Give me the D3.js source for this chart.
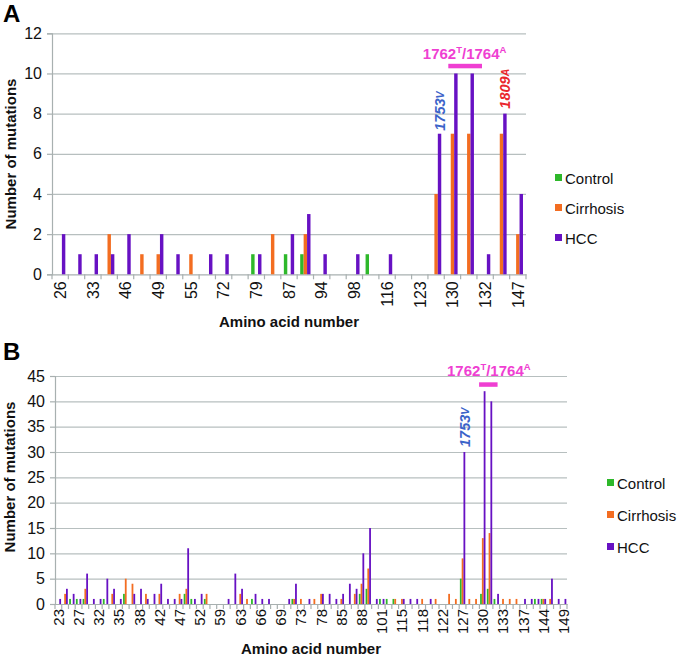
<!DOCTYPE html>
<html><head><meta charset="utf-8">
<script src="https://cdn.jsdelivr.net/npm/d3@7"></script>
<style>body{margin:0;background:#fff} svg{display:block;font-family:"Liberation Sans",Arial,Helvetica,sans-serif}</style>
</head><body><svg id="c" width="680" height="659"></svg>
<script>
const seriesNames = ["Control", "Cirrhosis", "HCC"];
const seriesColors = ["#2eb82a", "#f36d21", "#6711c3"];

// Panel A
const categoriesA = ["26","31","33","38","46","47","49","51","55","67","72","76","79","80","87","88","94","95","98","101","116","118","123","127","130","131","132","146","147"];
const tickLabelsA = ["26","33","46","49","55","72","79","87","94","98","116","123","130","132","147"];
const controlA   = [0,0,0,0,0,0,0,0,0,0,0,0,1,0,1,1,0,0,0,1,0,0,0,0,0,0,0,0,0];
const cirrhosisA = [0,0,0,2,0,1,1,0,1,0,0,0,0,2,0,2,0,0,0,0,0,0,0,4,7,7,0,7,2];
const hccA       = [2,1,1,1,2,0,2,1,0,1,1,0,1,0,2,3,1,0,1,0,1,0,0,7,10,10,1,8,4];
const yTicksA = [0,2,4,6,8,10,12];

// Panel B
const categoriesB = ["23","24","26","27","28","31","32","33","34","35","36","37","38","39","41","42","44","46","47","48","51","52","54","57","59","60","61","63","64","65","66","67","68","69","71","72","73","75","76","78","80","83","85","86","87","88","94","95","101","102","113","115","116","117","118","119","120","122","123","126","127","128","129","130","131","132","133","134","136","137","140","143","144","146","147","149"];
const tickLabelsB = ["23","27","32","35","38","42","47","52","59","63","66","69","73","78","85","88","101","115","118","122","127","130","133","137","144","149"];
const controlB   = [0,0,1,1,1,0,0,1,0,0,2,0,0,0,0,0,0,0,0,2,1,0,1,0,0,0,0,0,0,1,0,0,0,0,0,1,0,0,0,0,0,0,0,0,0,2,3,0,1,1,1,0,0,0,0,0,0,0,0,0,5,0,0,2,3,1,0,0,0,0,0,1,1,0,0,0];
const cirrhosisB = [0,2,0,0,3,0,0,0,2,0,5,4,0,2,0,2,0,0,2,3,0,0,2,0,0,0,0,2,1,0,0,0,0,0,0,1,1,0,1,2,0,0,1,0,2,4,7,0,0,0,1,1,0,0,1,0,1,0,2,1,9,1,1,13,14,0,1,1,1,0,0,0,1,1,0,0];
const hccB       = [1,3,2,1,6,1,1,5,3,1,0,2,3,1,2,4,1,1,1,11,1,2,0,0,0,1,6,3,0,2,1,1,0,0,1,4,0,1,0,2,2,1,2,4,3,10,15,1,1,0,0,1,1,1,0,1,0,0,0,0,30,0,0,42,40,2,0,0,0,1,1,1,1,5,1,1];
const yTicksB = [0,5,10,15,20,25,30,35,40,45];

const svg = d3.select("#c");

function panel(o) {
  const g = svg.append("g");
  const x0 = d3.scaleBand().domain(o.cats).range([o.left, o.right]).paddingInner(o.pad).paddingOuter(o.pad / 2);
  const x1 = d3.scaleBand().domain(seriesNames).range([0, x0.bandwidth()]);
  const y = d3.scaleLinear().domain([0, d3.max(o.yTicks)]).range([o.bottom, o.top]);

  // gridlines
  g.append("g").attr("transform", `translate(${o.left},0)`)
    .call(d3.axisLeft(y).tickValues(o.yTicks.slice(1)).tickSize(-(o.right - o.left)).tickFormat(""))
    .call(a => a.select(".domain").remove())
    .call(a => a.selectAll("line").attr("stroke", "#b7bfbf").attr("stroke-width", 1.2));

  // y axis
  g.append("g").attr("transform", `translate(${o.left},0)`)
    .call(d3.axisLeft(y).tickValues(o.yTicks).tickSize(5).tickPadding(5))
    .call(a => a.select(".domain").attr("stroke", "#a8b0b0").attr("stroke-width", 1.2))
    .call(a => a.selectAll("line").attr("stroke", "#a8b0b0").attr("stroke-width", 1.2))
    .call(a => a.selectAll("text").attr("font-size", o.yFont).attr("fill", "#111")
       .attr("font-family", "Liberation Sans, Arial, sans-serif"));

  // x axis labels
  const xa = g.append("g").attr("transform", `translate(0,${o.bottom})`)
    .call(d3.axisBottom(x0).tickValues(o.tickLabels).tickSize(0).tickPadding(0));
  xa.select(".domain").attr("stroke", "#a8b0b0").attr("stroke-width", 1.2);
  xa.selectAll("text").attr("font-size", o.xFont).attr("fill", "#111")
    .attr("font-family", "Liberation Sans, Arial, sans-serif")
    .attr("transform", `translate(0,${o.xLabelOff}) rotate(-90)`)
    .attr("text-anchor", "end").attr("x", 0).attr("y", 0).attr("dy", "0.36em");

  // boundary tick marks
  const step = x0.step();
  const edges = o.cats.map(c => x0(c) - step * o.pad / 2).concat([o.right]);
  g.append("g").selectAll("line").data(edges).join("line")
    .attr("x1", d => d).attr("x2", d => d).attr("y1", o.bottom).attr("y2", o.bottom + 5)
    .attr("stroke", "#a8b0b0").attr("stroke-width", 1.2);

  // bars
  o.series.forEach((vals, si) => {
    g.append("g").selectAll("rect").data(o.cats.map((c, i) => ({c, v: vals[i]})).filter(d => d.v > 0)).join("rect")
      .attr("x", d => x0(d.c) + x1(seriesNames[si]))
      .attr("width", x1.bandwidth())
      .attr("y", d => y(d.v))
      .attr("height", d => y(0) - y(d.v))
      .attr("fill", seriesColors[si]);
  });

  // titles
  g.append("text").attr("transform", `translate(${o.yTitle[0]},${o.yTitle[1]}) rotate(-90)`)
    .attr("text-anchor", "middle").attr("dy", "0.36em")
    .attr("font-size", 15).attr("font-weight", "bold").attr("fill", "#111").text("Number of mutations");
  g.append("text").attr("x", o.xTitle[0]).attr("y", o.xTitle[1])
    .attr("text-anchor", "middle").attr("font-size", 15).attr("font-weight", "bold").attr("fill", "#111")
    .text("Amino acid number");
  g.append("text").attr("x", 3).attr("y", o.letterY).attr("font-size", 24).attr("font-weight", "bold")
    .attr("fill", "#000").text(o.letter);

  // legend
  const lg = g.append("g");
  seriesNames.forEach((s, i) => {
    const cy = o.legend[1] + i * o.legend[2];
    lg.append("rect").attr("x", o.legend[0]).attr("y", cy - 5).attr("width", 7).attr("height", 7).attr("fill", seriesColors[i]);
    lg.append("text").attr("x", o.legend[0] + 10).attr("y", cy).attr("dy", "0.36em")
      .attr("font-size", 15).attr("fill", "#111").text(s);
  });

  // 1762T/1764A annotation
  const hx1 = x0("130"), hx2 = x0("131") + step + o.magExtra;
  g.append("rect").attr("x", hx1 + o.magShift).attr("width", hx2 - hx1 - o.magShift)
    .attr("y", o.magBarY).attr("height", 4.5).attr("fill", "#ef3fd2");
  const mt = g.append("text").attr("x", (hx1 + hx2) / 2 + o.magTextShift).attr("y", o.magTextY)
    .attr("text-anchor", "middle").attr("font-size", 15).attr("font-weight", "bold").attr("fill", "#ef3fd2");
  mt.append("tspan").text("1762");
  mt.append("tspan").attr("font-size", 9.5).attr("dy", -6).text("T");
  mt.append("tspan").attr("dy", 6).text("/1764");
  mt.append("tspan").attr("font-size", 9.5).attr("dy", -6).text("A");

  // rotated annotations
  o.rot.forEach(r => {
    const bx = x0(r.cat) + x1("HCC") + x1.bandwidth() / 2;
    const by = y(o.series[2][o.cats.indexOf(r.cat)]) - r.gap;
    const t = g.append("text").attr("transform", `translate(${bx},${by}) rotate(-90)`)
      .attr("dy", "0.36em").attr("font-size", 14.5).attr("font-weight", "bold").attr("font-style", "italic")
      .attr("fill", r.color);
    t.append("tspan").text(r.num);
    t.append("tspan").attr("font-size", 10.5).attr("dy", -1).text(r.sup);
  });
}

panel({
  cats: categoriesA, tickLabels: tickLabelsA, series: [controlA, cirrhosisA, hccA], yTicks: yTicksA,
  left: 52, right: 526, top: 33.3, bottom: 274.3, pad: 0.37, yFont: 16, xFont: 16, xLabelOff: 7,
  yTitle: [11, 154], xTitle: [289, 327], letter: "A", letterY: 22,
  legend: [555, 179, 30], magBarY: 63.8, magTextY: 59, magExtra: 2, magShift: 1, magTextShift: 0,
  rot: [{cat: "127", num: "1753", sup: "V", color: "#3b63c9", gap: 3},
        {cat: "146", num: "1809", sup: "A", color: "#e9262c", gap: 5}]
});
panel({
  cats: categoriesB, tickLabels: tickLabelsB, series: [controlB, cirrhosisB, hccB], yTicks: yTicksB,
  left: 55, right: 567, top: 376, bottom: 604, pad: 0.2, yFont: 16, xFont: 15, xLabelOff: 5,
  yTitle: [10, 477], xTitle: [311, 654], letter: "B", letterY: 360,
  legend: [607, 484, 32], magBarY: 382.3, magTextY: 376, magExtra: 4, magShift: -1, magTextShift: 0,
  rot: [{cat: "127", num: "1753", sup: "V", color: "#3b63c9", gap: 5}]
});
</script>
</body></html>
